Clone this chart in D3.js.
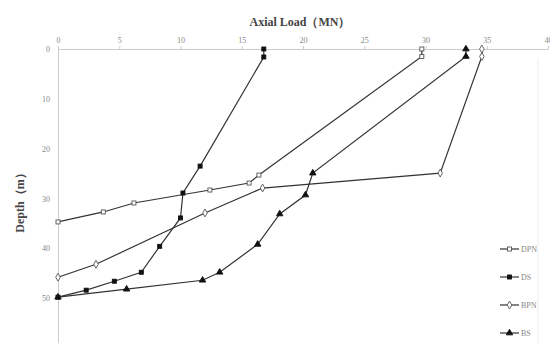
<!DOCTYPE html>
<html>
<head>
<meta charset="utf-8">
<script src="https://cdn.jsdelivr.net/npm/d3@7"></script>
<style>
  body { margin: 0; background: #fff; }
  svg { display: block; }
</style>
</head>
<body>
<div id="chart"></div>
<script>
// series names and markers
const seriesNames = ["DPN", "DS", "BPN", "BS"];
const seriesMarks = ["square-open", "square", "diamond-open", "triangle"];

// axial load (MN) and depth (m) per series
const dpnLoad  = [29.7, 29.7, 16.4, 15.6, 12.4, 6.2, 3.7, 0];
const dpnDepth = [0, 1.5, 25.3, 26.9, 28.3, 30.9, 32.7, 34.7];

const dsLoad  = [16.8, 16.8, 11.6, 10.2, 10.0, 8.3, 6.8, 4.6, 2.3, 0];
const dsDepth = [0, 1.6, 23.5, 28.9, 33.9, 39.6, 44.8, 46.6, 48.4, 49.8];

const bpnLoad  = [34.6, 34.6, 31.2, 16.7, 12.0, 3.1, 0];
const bpnDepth = [0, 1.5, 24.9, 27.9, 32.9, 43.2, 45.8];

const bsLoad  = [33.3, 33.3, 20.8, 20.2, 18.1, 16.3, 13.2, 11.8, 5.6, 0];
const bsDepth = [0, 1.5, 24.9, 29.3, 33.1, 39.2, 44.8, 46.4, 48.2, 49.8];

const xTicks = [0, 5, 10, 15, 20, 25, 30, 35, 40];
const yTicks = [0, 10, 20, 30, 40, 50];

const width = 550, height = 343;
const svg = d3.select("#chart").append("svg")
  .attr("width", width).attr("height", height);

const x = d3.scaleLinear().domain([0, 40]).range([58, 548]);
const y = d3.scaleLinear().domain([0, 60]).range([49, 348]);

const serif = "'Liberation Serif', 'DejaVu Serif', serif";

// top axis
const topAxis = d3.axisTop(x).tickValues(xTicks).tickSize(3).tickPadding(3);
const gx = svg.append("g").attr("transform", `translate(0,${y(0)})`).call(topAxis);
gx.select(".domain").attr("stroke", "#ccc");
gx.selectAll(".tick line").attr("stroke", "#ccc");
gx.selectAll("text").attr("fill", "#888").style("font-family", serif).style("font-size", "8px");

// left axis
const leftAxis = d3.axisLeft(y).tickValues(yTicks).tickSize(0).tickPadding(8);
const gy = svg.append("g").attr("transform", `translate(${x(0)},0)`).call(leftAxis);
gy.select(".domain").attr("stroke", "#ccc");
gy.selectAll("text").attr("fill", "#888").style("font-family", serif).style("font-size", "8px");

// faint right edge
svg.append("line")
  .attr("x1", 538).attr("x2", 538).attr("y1", 58).attr("y2", height)
  .attr("stroke", "#eee");

// titles
svg.append("text")
  .attr("x", 300).attr("y", 26)
  .attr("text-anchor", "middle")
  .style("font-family", serif).style("font-weight", "bold").style("font-size", "12px")
  .attr("fill", "#444")
  .text("Axial Load（MN）");

svg.append("text")
  .attr("transform", "translate(24,200) rotate(-90)")
  .attr("text-anchor", "middle")
  .style("font-family", serif).style("font-weight", "bold").style("font-size", "12px")
  .attr("fill", "#444")
  .text("Depth（m）");

const series = [
  { load: dpnLoad, depth: dpnDepth },
  { load: dsLoad, depth: dsDepth },
  { load: bpnLoad, depth: bpnDepth },
  { load: bsLoad, depth: bsDepth }
].map((s, i) => ({
  name: seriesNames[i],
  mark: seriesMarks[i],
  pts: s.load.map((v, j) => [v, s.depth[j]])
}));

const line = d3.line().x(d => x(d[0])).y(d => y(d[1]));

function marker(g, kind, px, py) {
  const open = kind.endsWith("open");
  const fill = open ? "#fff" : "#111";
  const stroke = open ? "#555" : "#111";
  if (kind.startsWith("square")) {
    g.append("rect").attr("x", px - 2).attr("y", py - 2)
      .attr("width", 4).attr("height", 4)
      .attr("fill", fill).attr("stroke", stroke).attr("stroke-width", 0.9);
  } else if (kind.startsWith("diamond")) {
    g.append("path").attr("d", d3.symbol(d3.symbolDiamond, 18)())
      .attr("transform", `translate(${px},${py})`)
      .attr("fill", fill).attr("stroke", stroke).attr("stroke-width", 0.9);
  } else {
    g.append("path").attr("d", d3.symbol(d3.symbolTriangle, 18)())
      .attr("transform", `translate(${px},${py})`)
      .attr("fill", fill).attr("stroke", stroke).attr("stroke-width", 0.9);
  }
}

series.forEach(s => {
  const g = svg.append("g");
  g.append("path").datum(s.pts)
    .attr("d", line)
    .attr("fill", "none").attr("stroke", "#333").attr("stroke-width", 1.2);
  s.pts.forEach(p => marker(g, s.mark, x(p[0]), y(p[1])));
});

// legend
const legend = svg.append("g");
series.forEach((s, i) => {
  const ly = 249 + i * 28;
  legend.append("line")
    .attr("x1", 500).attr("x2", 519).attr("y1", ly).attr("y2", ly)
    .attr("stroke", "#333").attr("stroke-width", 1.2);
  marker(legend, s.mark, 509.5, ly);
  legend.append("text")
    .attr("x", 521).attr("y", ly + 3)
    .style("font-family", serif).style("font-size", "8px")
    .attr("fill", "#888")
    .text(s.name);
});
</script>
</body>
</html>
